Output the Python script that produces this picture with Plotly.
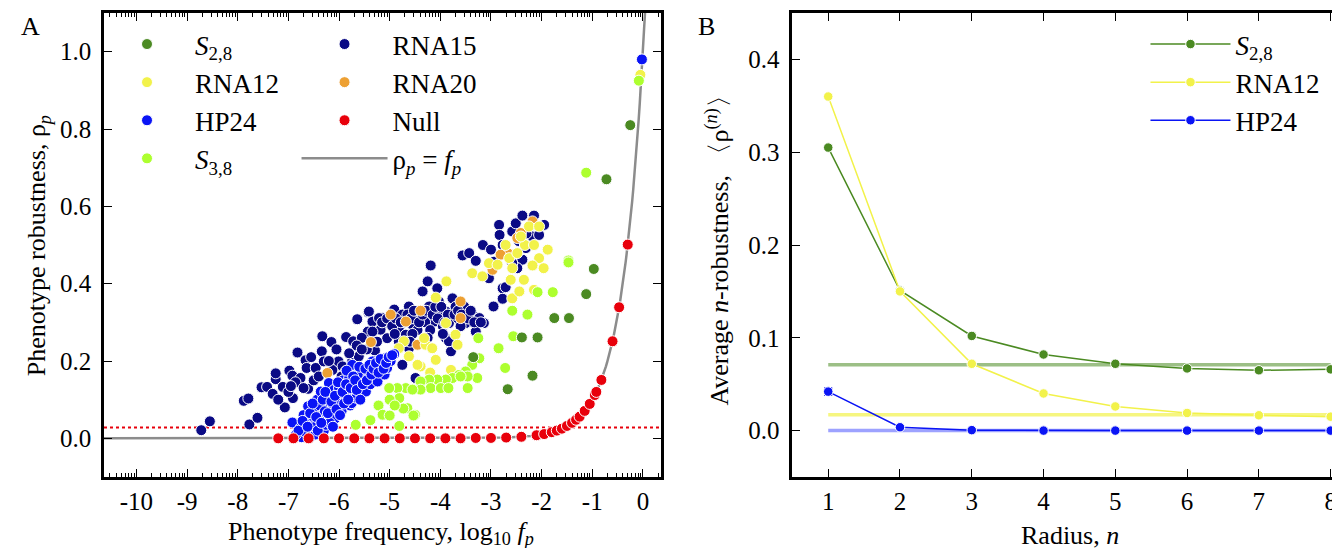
import numpy as np
import plotly.graph_objects as go

# ---------------- Panel A data (log10 f_p, rho_p) ----------------
rna15_x = [-8.72,-8.55,-7.88,-7.79,-7.77,-7.61,-7.53,-7.42,-7.31,-7.25,-7.25,-7.11,-7.07,-6.98,-6.92,-6.82,-6.76,-6.91,-6.86,-6.66,
           -6.64,-6.61,-6.46,-6.34,-6.33,-6.30,-6.15,-6.13,-6.01,-5.93,-5.87,-5.86,-5.74,-5.72,-5.64,-5.61,-5.43,-5.42,-5.34,-5.29,
           -5.14,-5.41,-5.21,-5.11,-5.05,-4.91,-4.82,-4.75,-4.62,-4.55,-4.49,-4.35,-4.25,-4.19,-4.22,-4.12,-4.06,-4.03,-3.89,-3.83,
           -3.79,-3.76,-3.66,-3.53,-3.50,-3.37,-3.23,-3.14,-3.30,-4.49,-3.89,-4.68,-5.18,-5.34,-4.82,-4.62,-4.75,-3.79,-3.83,-4.40,
           -4.30,-4.00,-3.95,-3.70,-3.60,-4.70,-5.00,-4.45,
           -5.15,-5.05,-4.95,-4.88,-4.78,-4.65,-4.58,-4.52,-4.42,-4.35,-4.28,-4.15,-4.10,-4.05,-3.98,-3.92,-3.85,-3.72,-3.65,-3.58,
           -3.45,-3.40,-3.33,-3.20,-4.90,-4.55,-4.20,-4.60,-4.25,-3.95,-5.25,-5.45,-5.55,-5.30,-5.65,
           -6.50,-6.70,-6.55,-6.40,-6.20,-6.05,-5.95,-5.80,-5.55,-7.00,-7.20,-6.95,
           -3.56,-3.43,-3.30,-3.16,-3.00,-2.84,-2.83,-2.77,-2.71,-2.58,-2.51,-2.38,-2.15,-2.18,-2.18,-2.05,-1.95,-2.31,-2.38,-2.48,
           -2.58,-2.94,-3.04,-2.77,-2.77,-2.95,-2.71,-2.45,-2.30]
rna15_y = [0.021,0.044,0.097,0.103,0.036,0.053,0.132,0.133,0.115,0.153,0.168,0.133,0.080,0.175,0.162,0.222,0.156,0.104,0.145,0.202,
           0.182,0.128,0.182,0.225,0.264,0.199,0.249,0.177,0.199,0.186,0.173,0.262,0.199,0.251,0.308,0.212,0.276,0.326,0.302,0.227,
           0.311,0.328,0.311,0.298,0.259,0.333,0.285,0.320,0.341,0.294,0.311,0.380,0.406,0.447,0.341,0.302,0.388,0.354,0.328,0.298,
           0.246,0.362,0.311,0.341,0.298,0.320,0.311,0.298,0.276,0.156,0.259,0.268,0.281,0.276,0.251,0.233,0.190,0.225,0.251,0.330,
           0.300,0.320,0.290,0.340,0.290,0.300,0.300,0.280,
           0.300,0.310,0.290,0.310,0.300,0.320,0.310,0.330,0.300,0.320,0.330,0.320,0.340,0.310,0.340,0.300,0.320,0.320,0.330,0.320,
           0.310,0.330,0.300,0.300,0.270,0.270,0.280,0.250,0.260,0.270,0.250,0.230,0.260,0.200,0.240,
           0.150,0.130,0.210,0.160,0.200,0.230,0.160,0.220,0.230,0.120,0.100,0.135,
           0.473,0.479,0.459,0.500,0.488,0.552,0.526,0.500,0.475,0.535,0.556,0.576,0.576,0.552,0.522,0.526,0.552,0.492,0.462,0.440,
           0.453,0.457,0.414,0.388,0.361,0.341,0.391,0.510,0.530]

rna20_x = [-6.23,-5.37,-4.98,-4.68,-4.39,-3.60,-3.60,-4.45,-2.41,-2.48,-2.18,-2.67,-2.81,-2.97]
rna20_y = [0.169,0.249,0.320,0.302,0.330,0.354,0.311,0.242,0.531,0.518,0.561,0.479,0.475,0.436]

rna12_x = [-3.88,-4.09,-3.89,-4.72,-4.62,-4.29,-4.16,-4.39,-4.09,-3.70,-3.66,-3.79,-4.82,-4.32,-3.37,-3.17,-3.04,-2.87,-2.71,-2.64,
           -2.58,-2.61,-2.58,-2.44,-2.35,-2.33,-2.25,-2.05,-2.15,-2.05,-1.88,-1.96,-2.18,-2.15,-2.48,-2.41,-4.45,-4.20,-0.05]
rna12_y = [0.406,0.364,0.298,0.251,0.212,0.242,0.233,0.186,0.203,0.268,0.242,0.177,0.233,0.259,0.427,0.419,0.453,0.449,0.500,0.466,
           0.440,0.410,0.362,0.380,0.410,0.500,0.548,0.548,0.500,0.466,0.488,0.440,0.447,0.384,0.479,0.522,0.190,0.170,0.940]

hp24_x = [-6.92,-6.76,-6.74,-6.70,-6.65,-6.61,-6.59,-6.55,-6.53,-6.50,-6.46,-6.43,-6.40,-6.36,-6.33,-6.30,-6.26,-6.24,-6.21,-6.20,
          -6.16,-6.13,-6.10,-6.07,-6.04,-6.00,-5.97,-5.95,-5.92,-5.88,-5.84,-5.80,-5.78,-5.75,-5.74,-5.70,-5.66,-5.61,-5.57,-5.55,
          -5.50,-5.47,-5.42,-5.38,-5.34,-5.30,-5.24,-5.20,-5.14,-5.10,-5.09,-5.05,-4.98,-4.91,-6.85,-6.68,-6.47,-6.38,-6.28,-6.18,
          -5.85,-5.63,
          -6.80,-6.72,-6.62,-6.57,-6.52,-6.45,-6.42,-6.35,-6.32,-6.27,-6.22,-6.15,-6.12,-6.08,-6.05,-6.02,-5.98,-5.93,-5.90,-5.86,
          -5.82,-5.77,-5.72,-5.68,-5.65,-5.60,-5.58,-5.53,-5.48,-5.45,-5.40,-5.36,-5.32,-5.27,-5.22,-5.18,-5.12,-5.07,-5.02,-4.95,
          -0.02]
hp24_y = [0.041,0.027,0.003,0.060,0.015,0.083,0.052,0.005,0.031,0.070,0.010,0.100,0.045,0.121,0.061,0.020,0.035,0.090,0.108,0.143,
          0.055,0.078,0.125,0.052,0.100,0.130,0.096,0.070,0.150,0.110,0.121,0.156,0.085,0.091,0.190,0.130,0.105,0.139,0.177,0.115,
          0.160,0.121,0.173,0.140,0.199,0.160,0.147,0.185,0.190,0.165,0.207,0.182,0.200,0.218,0.010,0.040,0.030,0.085,0.070,0.040,
          0.175,0.165,
          0.020,0.045,0.030,0.065,0.090,0.055,0.020,0.040,0.100,0.120,0.065,0.095,0.030,0.110,0.075,0.145,0.060,0.120,0.090,0.140,
          0.100,0.130,0.160,0.150,0.125,0.185,0.100,0.140,0.180,0.150,0.190,0.165,0.180,0.195,0.170,0.205,0.180,0.195,0.210,0.215,
          0.980]

s38_x = [-3.23,-3.37,-3.50,-3.63,-3.27,-3.76,-3.89,-4.06,-4.22,-4.39,-4.68,-4.85,-5.01,-4.19,-3.99,-3.84,-3.46,-3.46,-3.60,-3.25,
         -2.85,-2.72,-2.56,-2.58,-2.28,-2.08,-1.78,-1.47,-1.47,-1.12,-0.08,-4.39,-4.55,-4.50,-4.65,-5.22,-5.14,-5.38,-5.67,-5.00,
         -4.81,-4.73,-4.81,-4.53,-5.00,-4.90]
s38_y = [0.207,0.190,0.173,0.164,0.156,0.156,0.152,0.152,0.152,0.147,0.130,0.130,0.130,0.130,0.130,0.130,0.130,0.160,0.160,0.259,
         0.233,0.182,0.264,0.330,0.320,0.378,0.378,0.460,0.455,0.687,0.925,0.126,0.126,0.061,0.078,0.085,0.061,0.047,0.035,0.059,
         0.104,0.077,0.032,0.059,0.100,0.085]

s28_x = [-0.25,-0.72,-0.97,-1.12,-1.46,-1.75,-2.08,-2.39,-3.35,-2.18,-2.67]
s28_y = [0.810,0.670,0.438,0.373,0.311,0.311,0.261,0.261,0.210,0.162,0.127]

null_x = [-7.2,-6.9,-6.6,-6.3,-6.0,-5.7,-5.4,-5.1,-4.8,-4.5,-4.2,-3.9,-3.6,-3.3,-3.0,-2.7,-2.4,-2.1,-1.95,-1.8,
          -1.7,-1.6,-1.5,-1.4,-1.32,-1.25,-1.15,-1.05,-0.95,-0.92,-0.82,-0.6,-0.47,-0.3]
null_y = [0.0,0.0,0.0,0.0,0.0,0.0,0.0,0.0,0.0,0.0,0.0,0.0,0.0,0.001,0.001,0.002,0.004,0.008,0.011,0.016,
          0.020,0.025,0.032,0.040,0.048,0.056,0.071,0.089,0.112,0.120,0.151,0.251,0.339,0.501]
null_threshold = 0.028

# ---------------- Panel B data ----------------
radius = [1, 2, 3, 4, 5, 6, 7, 8]
b_s28 = [0.305, 0.151, 0.102, 0.082, 0.072, 0.067, 0.065, 0.066]
b_rna12 = [0.360, 0.150, 0.072, 0.040, 0.026, 0.019, 0.0165, 0.015]
b_hp24 = [0.042, 0.0036, 0.0005, 0.0, 0.0, 0.0, 0.0, 0.0]
b_hp24_err = [0.004, 0, 0, 0, 0, 0, 0, 0]
asym_s28 = 0.071
asym_rna12 = 0.017
asym_hp24 = 0.0

xticks_a = list(range(-10, 1))
yticks_a = [0.0, 0.2, 0.4, 0.6, 0.8, 1.0]
xticks_b = radius
yticks_b = [0.0, 0.1, 0.2, 0.3, 0.4]

# colours
C_S28 = "#4b8a22"
C_RNA12 = "#f2f24a"
C_HP24 = "#0a14f5"
C_S38 = "#adff2f"
C_RNA15 = "#0a0a85"
C_RNA20 = "#eda033"
C_NULL = "#e8000b"
C_LINE = "#8c8c8c"

FONT = "Liberation Serif, Times New Roman, DejaVu Serif, serif"
TXT = dict(family=FONT, size=26, color="black")
TICK = dict(family=FONT, size=25, color="black")
LEG = dict(family=FONT, size=27, color="black")

fig = go.Figure()

mk = lambda c: dict(color=c, size=11, line=dict(color="white", width=1))

# curve rho_p = f_p (theoretical reference line)
cx = np.linspace(-10.7, 0.045, 500)
fig.add_trace(go.Scatter(x=cx, y=10 ** cx, mode="lines", line=dict(color=C_LINE, width=2.5),
                         name="ρ<sub><i>p</i></sub> = <i>f</i><sub><i>p</i></sub>", legend="legend2",
                         legendgroup="g8", legendrank=8, xaxis="x", yaxis="y"))

series = [
    ("RNA15", rna15_x, rna15_y, C_RNA15, "legend2", 5),
    ("RNA20", rna20_x, rna20_y, C_RNA20, "legend2", 6),
    ("RNA12", rna12_x, rna12_y, C_RNA12, "legend", 2),
    ("HP24", hp24_x, hp24_y, C_HP24, "legend", 3),
    ("<i>S</i><sub>3,8</sub>", s38_x, s38_y, C_S38, "legend", 4),
    ("<i>S</i><sub>2,8</sub>", s28_x, s28_y, C_S28, "legend", 1),
]
for name, xs, ys, c, lg, rk in series:
    fig.add_trace(go.Scatter(x=xs, y=ys, mode="markers", marker=mk(c), name=name, legend=lg,
                             legendgroup="g%d" % rk, legendrank=rk, xaxis="x", yaxis="y"))

fig.add_trace(go.Scatter(x=null_x, y=null_y, mode="markers", marker=mk(C_NULL), name="Null", legend="legend2",
                         legendgroup="g7", legendrank=7, xaxis="x", yaxis="y"))

# ---------------- Panel B traces ----------------
for val, c in [(asym_s28, "rgba(75,138,34,0.55)"), (asym_rna12, "rgba(242,242,74,0.7)"), (asym_hp24, "rgba(60,70,255,0.5)")]:
    fig.add_trace(go.Scatter(x=[radius[0], radius[-1]], y=[val, val], mode="lines", line=dict(color=c, width=3.5),
                             showlegend=False, hoverinfo="skip", xaxis="x2", yaxis="y2"))

mkb = lambda c: dict(color=c, size=9.5, line=dict(color="white", width=1))
fig.add_trace(go.Scatter(x=radius, y=b_s28, mode="lines+markers", line=dict(color=C_S28, width=1.5), marker=mkb(C_S28),
                         name="<i>S</i><sub>2,8</sub>", legend="legend3", legendgroup="b1", legendrank=1, xaxis="x2", yaxis="y2"))
fig.add_trace(go.Scatter(x=radius, y=b_rna12, mode="lines+markers", line=dict(color=C_RNA12, width=1.5), marker=mkb(C_RNA12),
                         name="RNA12", legend="legend3", legendgroup="b2", legendrank=2, xaxis="x2", yaxis="y2"))
fig.add_trace(go.Scatter(x=radius, y=b_hp24, mode="lines+markers", line=dict(color=C_HP24, width=1.5), marker=mkb(C_HP24),
                         error_y=dict(type="data", array=b_hp24_err, color=C_HP24, thickness=1.5, width=4),
                         name="HP24", legend="legend3", legendgroup="b3", legendrank=3, xaxis="x2", yaxis="y2"))

# ---------------- layout ----------------
W, H = 1340, 548
ML, MR, MT, MB = 96, 0, 5, 79
PW, PH = W - ML - MR, H - MT - MB
px2x = lambda p: (p - ML) / PW
px2y = lambda p: (H - MB - p) / PH

axcommon = dict(showgrid=False, zeroline=False, showline=True, linecolor="black", linewidth=2.5, mirror="allticks",
                ticks="inside", ticklen=8, tickwidth=1.3, tickcolor="black", tickfont=TICK)

minor_vals = [d + float(np.log10(k)) for d in range(-11, 1) for k in range(2, 10)]

fig.update_layout(
    width=W, height=H, margin=dict(l=ML, r=MR, t=MT, b=MB),
    paper_bgcolor="white", plot_bgcolor="white",
    font=TXT,
    xaxis=dict(domain=[0, px2x(654)], range=[-10.64, 0.35], tickmode="array", tickvals=xticks_a,
               ticktext=[str(v) for v in xticks_a],
               minor=dict(tickmode="array", tickvals=minor_vals, ticks="inside", ticklen=4, tickwidth=1, tickcolor="black"),
               **axcommon),
    yaxis=dict(domain=[0, 1], range=[-0.1, 1.1], tickmode="array", tickvals=yticks_a,
               ticktext=["%.1f" % v for v in yticks_a], ticklabelstandoff=5, **axcommon),
    xaxis2=dict(domain=[px2x(786), 1.0], range=[0.5, 8.2], tickmode="array", tickvals=xticks_b,
                ticktext=[str(v) for v in xticks_b], anchor="y2", **axcommon),
    yaxis2=dict(domain=[0, 1], range=[-0.05, 0.45], tickmode="array", tickvals=yticks_b,
                ticktext=["%.1f" % v for v in yticks_b], anchor="x2", ticklabelstandoff=5, **axcommon),
    showlegend=True,
    legend=dict(x=px2x(91), y=px2y(12), xanchor="left", yanchor="top", bgcolor="rgba(0,0,0,0)",
                font=LEG, itemwidth=86, tracegroupgap=9, traceorder="normal"),
    legend2=dict(x=px2x(289), y=px2y(12), xanchor="left", yanchor="top", bgcolor="rgba(0,0,0,0)",
                 font=LEG, itemwidth=86, tracegroupgap=9, traceorder="normal"),
    legend3=dict(x=px2x(1140), y=px2y(12), xanchor="left", yanchor="top", bgcolor="rgba(0,0,0,0)",
                 font=LEG, itemwidth=80, tracegroupgap=9, traceorder="normal"),
    shapes=[dict(type="line", xref="x domain", yref="y", x0=0, x1=1, y0=null_threshold, y1=null_threshold,
                 line=dict(color=C_NULL, width=2, dash="dot"), layer="below")],
    annotations=[
        dict(text="A", x=px2x(22), y=px2y(19), xref="paper", yref="paper", showarrow=False,
             font=TXT, xanchor="center", yanchor="middle"),
        dict(text="B", x=px2x(700), y=px2y(19), xref="paper", yref="paper", showarrow=False,
             font=TXT, xanchor="center", yanchor="middle"),
        dict(text="Phenotype frequency, log<sub>10</sub> <i>f</i><sub><i>p</i></sub>", x=px2x(374), y=px2y(525),
             xref="paper", yref="paper", showarrow=False, font=TXT, xanchor="center", yanchor="middle"),
        dict(text="Phenotype robustness, ρ<sub><i>p</i></sub>", x=px2x(30), y=px2y(238), textangle=-90,
             xref="paper", yref="paper", showarrow=False, font=TXT, xanchor="center", yanchor="middle"),
        dict(text="Radius, <i>n</i>", x=px2x(1064), y=px2y(527),
             xref="paper", yref="paper", showarrow=False, font=TXT, xanchor="center", yanchor="middle"),
        dict(text="Average <i>n</i>-robustness, 〈ρ<sup>(<i>n</i>)</sup>〉", x=px2x(712), y=px2y(236), textangle=-90,
             xref="paper", yref="paper", showarrow=False, font=TXT, xanchor="center", yanchor="middle"),
    ],
)

fig.write_html("out.html")
